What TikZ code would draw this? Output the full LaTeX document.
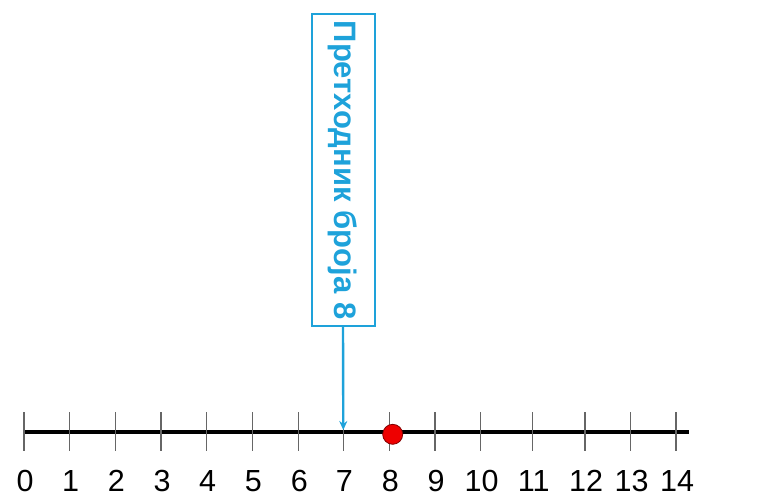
\documentclass[tikz,border=0pt]{standalone}
\usepackage{fontspec}
\setmainfont{Liberation Sans}
\usetikzlibrary{positioning,arrows.meta}
\definecolor{labelblue}{RGB}{30,162,218}
\definecolor{dotred}{RGB}{238,0,0}

\begin{document}
\begin{tikzpicture}[x=1pt,y=1pt,
  axis/.style={line width=4.5pt},
  tickmark/.style={draw=black!60, line width=1.1pt},
  ticklabel/.style={font=\fontsize{30.5}{30}\selectfont, inner sep=0pt},
  callout/.style={draw=labelblue, line width=2pt, text=labelblue,
    font=\fontsize{31}{31}\selectfont\bfseries, rotate=-90,
    minimum width=312pt, minimum height=63pt, inner sep=0pt},
  pointer/.style={draw=labelblue, line width=2.4pt,
    -{Stealth[length=9pt,width=8pt]}, shorten >=2pt},
  dot/.style={circle, fill=dotred, draw=dotred!55!black, line width=0.8pt,
    minimum size=20pt, inner sep=0pt}]
 \useasboundingbox (0,0) rectangle (768,-503);
 % number line
 \coordinate (start) at (24,-432);
 \coordinate (end) at (689,-432);
 \draw[axis] (start) -- (end);
 \foreach \n/\x in {0/24,1/69.7,2/115.3,3/161,4/206.7,5/252.3,6/298.3,7/343.3,
   8/389.3,9/435,10/480.7,11/532.7,12/585,13/630.7,14/676} {
  \coordinate (t\n) at (\x,-432);
  \draw[tickmark] (\x,-412) -- (\x,-451);
  \node[ticklabel] (l\n) at (\x+1,-481) {\n};
 }
 % the marked number
 \node[dot] (mark) at (392.7,-434.3) {};
 % label box and arrow
 \node[callout] (pred) at (343,-170) {Претходник броја 8};
 \draw[pointer] (pred.east) -- (t7);
\end{tikzpicture}
\end{document}
